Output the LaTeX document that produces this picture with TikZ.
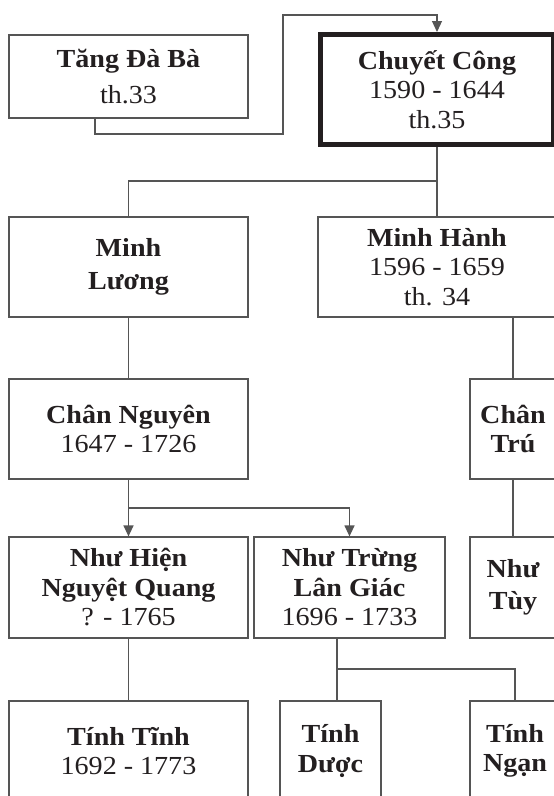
\documentclass[tikz,border=0pt]{standalone}
\usepackage{fontspec}
\setmainfont{Liberation Serif}[FakeStretch=1.08]
\usetikzlibrary{arrows.meta}
\definecolor{ink}{HTML}{231F20}
\definecolor{wire}{HTML}{555555}
\begin{document}
\begin{tikzpicture}[x=1pt,y=-1pt,
  box/.style={draw=wire, line width=1.2pt, rectangle, inner sep=0pt, text=ink, align=center,
              font=\fontsize{26}{29.5}\selectfont},
  bigbox/.style={box, draw=ink, line width=5pt},
  conn/.style={draw=wire, line width=1.2pt},
  arr/.style={conn, -{Triangle[length=11pt,width=10pt]}}]
\useasboundingbox (0,0) rectangle (554,796);
\clip (0,0) rectangle (554,796);
\fill[white] (0,0) rectangle (554,796);

% row 1
\node[box, minimum width=239pt, minimum height=83pt] (tdb) at (128.5,76.5)
  {\bfseries Tăng Đà Bà\\[7pt] th.33};
\node[bigbox, minimum width=233pt, minimum height=110pt] (cc) at (437,89.5)
  {\bfseries Chuyết Công\\ 1590 - 1644\\ th.35};

% row 2
\node[box, minimum width=239pt, minimum height=100pt] (ml) at (128.5,267)
  {\bfseries Minh\\[3pt] \bfseries Lương};
\node[box, minimum width=238pt, minimum height=100pt] (mh) at (437,267)
  {\bfseries Minh Hành\\ 1596 - 1659\\ th. 34};

% row 3
\node[box, minimum width=239pt, minimum height=100pt] (cn) at (128.5,429)
  {\bfseries Chân Nguyên\\ 1647 - 1726};
\node[box, minimum width=86pt, minimum height=100pt] (ct) at (513,429)
  {\bfseries Chân\\ \bfseries Trú};

% row 4
\node[box, minimum width=239pt, minimum height=101pt] (nh) at (128.5,587.5)
  {\bfseries Như Hiện\\ \bfseries Nguyệt Quang\\ ? - 1765};
\node[box, minimum width=191pt, minimum height=101pt] (ntr) at (349.5,587.5)
  {\bfseries Như Trừng\\ \bfseries Lân Giác\\ 1696 - 1733};
\node[box, minimum width=86pt, minimum height=101pt] (nt) at (513,587.5)
  {\bfseries Như\\[3pt] \bfseries Tùy};

% row 5
\node[box, minimum width=239pt, minimum height=100pt] (tt) at (128.5,751)
  {\bfseries Tính Tĩnh\\ 1692 - 1773};
\node[box, minimum width=101pt, minimum height=100pt] (td) at (330.5,751)
  {\bfseries Tính\\ \bfseries Dược};
\node[box, minimum width=90pt, minimum height=100pt] (tn) at (515,751)
  {\bfseries Tính\\ \bfseries Ngạn};

% connectors
\coordinate (j0) at (95,134);
\coordinate (j1) at (283,15);
\draw[arr] ([xshift=-33.5pt]tdb.south) -- (j0) -| (j1) -| (cc.north);

\coordinate (h1) at (437,181);
\draw[conn] (cc.south) -- (h1) -| (ml.north);
\draw[conn] (h1) -- (mh.north);

\draw[conn] (ml.south) -- (cn.north);
\draw[conn] (mh.south -| ct.north) -- (ct.north);

\coordinate (h2) at (128.5,508);
\draw[arr] (cn.south) -- (nh.north);
\draw[arr] (h2) -| (ntr.north);

\draw[conn] (ct.south) -- (nt.north);
\draw[conn] (nh.south) -- (tt.north);

\coordinate (h3) at (337,669);
\draw[conn] ([xshift=-12.5pt]ntr.south) -- (h3) -| (tn.north);
\draw[conn] (h3) -- (h3 |- td.north);
\end{tikzpicture}
\end{document}
